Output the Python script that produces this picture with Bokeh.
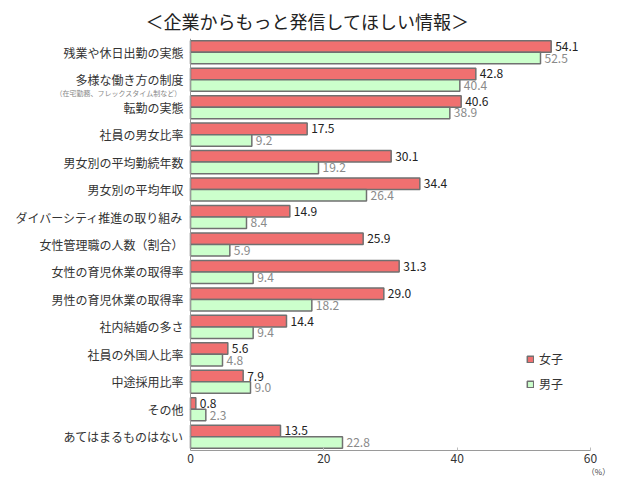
from bokeh.plotting import figure
from bokeh.models import (ColumnDataSource, FactorRange, Label, Legend, LegendItem, Span,
                          LinearAxis, FixedTicker)
from bokeh.transform import dodge
from bokeh.core.properties import value
from bokeh.embed import file_html
from bokeh.resources import INLINE

title_text = "＜企業からもっと発信してほしい情報＞"
categories = [
    "残業や休日出勤の実態",
    "多様な働き方の制度",
    "転勤の実態",
    "社員の男女比率",
    "男女別の平均勤続年数",
    "男女別の平均年収",
    "ダイバーシティ推進の取り組み",
    "女性管理職の人数（割合）",
    "女性の育児休業の取得率",
    "男性の育児休業の取得率",
    "社内結婚の多さ",
    "社員の外国人比率",
    "中途採用比率",
    "その他",
    "あてはまるものはない",
]
sub_note = "（在宅勤務、フレックスタイム制など）"
female = [54.1, 42.8, 40.6, 17.5, 30.1, 34.4, 14.9, 25.9, 31.3, 29.0, 14.4, 5.6, 7.9, 0.8, 13.5]
male = [52.5, 40.4, 38.9, 9.2, 19.2, 26.4, 8.4, 5.9, 9.4, 18.2, 9.4, 4.8, 9.0, 2.3, 22.8]
series_names = ["女子", "男子"]
x_ticks = [0, 20, 40, 60]
unit = "（%）"

FONT = "Noto Sans CJK JP"

src = ColumnDataSource(dict(
    cat=categories,
    female=female,
    male=male,
    flab=[f"{v:.1f}" for v in female],
    mlab=[f"{v:.1f}" for v in male],
))

# frame spans almost the whole width so that the category labels live inside it;
# value 0 sits at 190 px and 60 at 590 px
p = figure(
    width=633, height=480,
    x_range=(-27.75, 60),
    y_range=FactorRange(factors=list(reversed(categories)), range_padding=0),
    output_backend="svg", toolbar_location=None,
    min_border_left=5, min_border_right=43, min_border_top=38, min_border_bottom=30,
)
p.title.text = title_text
p.title.align = "left"
p.title.offset = 140
p.title.text_font = FONT
p.title.text_font_size = "18px"
p.title.text_font_style = "normal"
p.title.text_color = "#222222"

p.outline_line_color = None
p.xgrid.grid_line_color = None
p.ygrid.grid_line_color = None
p.yaxis.visible = False

r1 = p.hbar(y=dodge("cat", 0.21, range=p.y_range), right="female", left=0, height=0.42,
            source=src, fill_color="#F07070", line_color="#707070", line_width=1.5)
r2 = p.hbar(y=dodge("cat", -0.21, range=p.y_range), right="male", left=0, height=0.42,
            source=src, fill_color="#CCFFCC", line_color="#707070", line_width=1.5)

p.text(x="female", y=dodge("cat", 0.21, range=p.y_range), text="flab", source=src,
       x_offset=4, text_baseline="middle", text_font=value(FONT), text_font_size="12px",
       text_color="#222222")
p.text(x="male", y=dodge("cat", -0.21, range=p.y_range), text="mlab", source=src,
       x_offset=4, text_baseline="middle", text_font=value(FONT), text_font_size="12px",
       text_color="#8a8a8a")

# category labels (right aligned against the value axis at 0)
p.text(x=0, y="cat", text="cat", source=src, x_offset=-7, text_align="right",
       text_baseline="middle", text_font=value(FONT), text_font_size="12px",
       text_color="#333333")

# vertical axis line at 0
p.add_layout(Span(location=0, dimension="height", line_color="#9a9a9a", line_width=1))

# x axis
xa = p.xaxis[0]
xa.ticker = x_ticks
xa.bounds = (0, 60)
xa.axis_line_color = "#9a9a9a"
xa.major_tick_in = 3
xa.major_tick_out = 0
xa.major_tick_line_color = "#bbbbbb"
xa.minor_tick_line_color = None
xa.major_label_text_font = FONT
xa.major_label_text_font_size = "12px"
xa.major_label_text_color = "#333333"
xa.major_label_standoff = 3

# second, label-only axis carrying the unit under "60"
ua = LinearAxis(ticker=FixedTicker(ticks=[60]), major_label_overrides={60: "\u2003\u2003" + unit},
                axis_line_color=None, major_tick_line_color=None, minor_tick_line_color=None,
                major_tick_in=0, major_tick_out=0,
                major_label_standoff=0, major_label_text_font=FONT,
                major_label_text_font_size="8px", major_label_text_color="#444444")
p.add_layout(ua, "below")

# sub note under the second category label
p.add_layout(Label(x=0, y=len(categories) - 2, x_offset=-9, text=sub_note,
                   text_align="right", text_baseline="middle", text_font=FONT,
                   text_font_size="7px", text_color="#888888"))

legend = Legend(items=[LegendItem(label=series_names[0], renderers=[r1]),
                       LegendItem(label=series_names[1], renderers=[r2])],
                location=(521, 58), orientation="vertical",
                label_text_font=FONT, label_text_font_size="12px", label_text_color="#333333",
                glyph_width=8, glyph_height=8, spacing=8, border_line_color=None,
                background_fill_alpha=0)
p.add_layout(legend)

open("out.html", "w").write(file_html(p, INLINE))
